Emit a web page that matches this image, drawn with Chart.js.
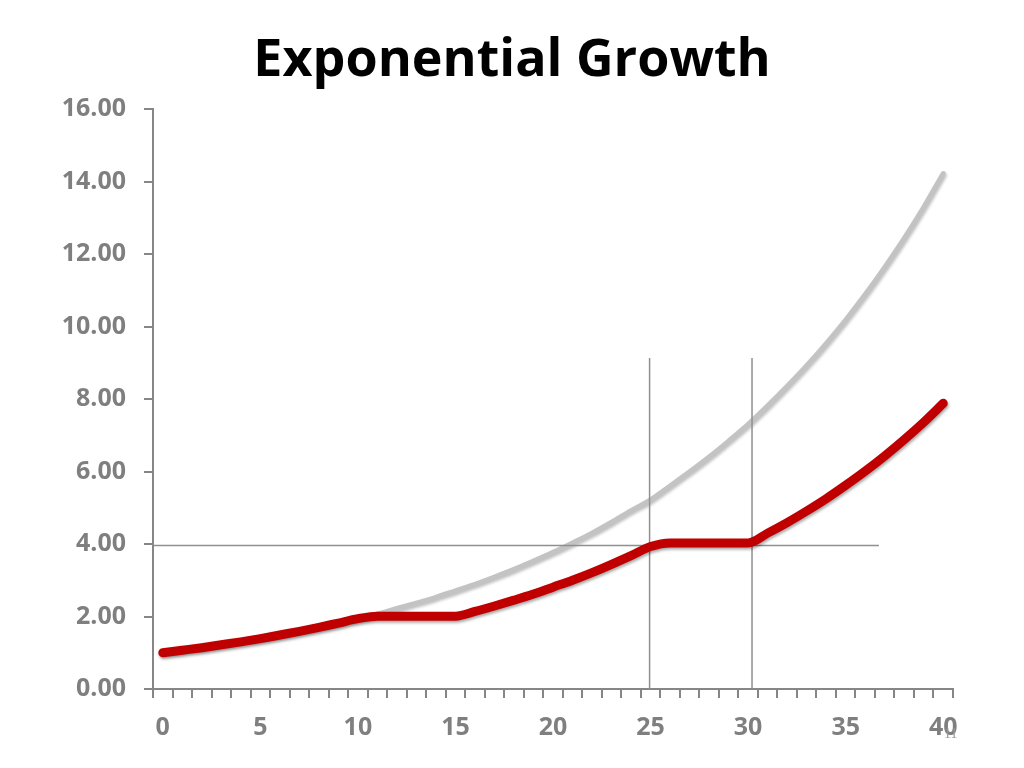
<!DOCTYPE html>
<html>
<head>
<meta charset="utf-8">
<script src="https://cdn.jsdelivr.net/npm/chart.js@4.4.1/dist/chart.umd.min.js"></script>
<style>
  html, body { margin: 0; padding: 0; background: #ffffff; }
  #wrap { position: relative; width: 1024px; height: 768px; }
  #pageNum { position: absolute; left: 944px; top: 726px; font-family: "Liberation Serif", serif; font-size: 14px; color: #9a9a9a; }
</style>
</head>
<body>
<div id="wrap">
  <canvas id="c" width="1024" height="768"></canvas>
  <div id="pageNum">11</div>
</div>
<script>
// ---- data ----
const titleText = "Exponential Growth";
const years = ["0","1","2","3","4","5","6","7","8","9","10","11","12","13","14","15","16","17","18","19","20",
               "21","22","23","24","25","26","27","28","29","30","31","32","33","34","35","36","37","38","39","40"];
const unconstrained = [1.00,1.07,1.14,1.22,1.30,1.39,1.49,1.59,1.70,1.82,1.94,2.07,2.22,2.37,2.53,2.71,2.89,3.09,3.30,3.53,3.77,
                       4.03,4.30,4.60,4.92,5.22,5.60,5.99,6.40,6.84,7.30,7.81,8.35,8.92,9.53,10.18,10.88,11.63,12.43,13.29,14.22];
const constrained   = [1.00,1.07,1.14,1.22,1.30,1.39,1.49,1.59,1.70,1.82,1.94,2.01,2.01,2.01,2.01,2.01,2.14,2.29,2.45,2.62,2.81,
                       3.00,3.21,3.44,3.68,3.93,4.03,4.03,4.03,4.03,4.03,4.30,4.59,4.91,5.25,5.62,6.01,6.43,6.88,7.36,7.88];
const limitLevel = 3.96;          // horizontal guide value
const limitLineEnd = 36.7;        // horizontal guide ends near year 36.7
const markerYears = [24.95, 30.2]; // vertical guides
const markerTop = 9.13;           // vertical guides reach this value
const yTicks = [0, 2, 4, 6, 8, 10, 12, 14, 16];

const axisGray = "#868686";
const guideGray = "#8f8f8f";

const shadowPlugin = {
  id: "lineShadow",
  beforeDatasetDraw(chart, args) {
    const ds = chart.data.datasets[args.index];
    if (ds.shadow) {
      const ctx = chart.ctx;
      ctx.save();
      ctx.shadowColor = ds.shadow;
      ctx.shadowBlur = 3;
      ctx.shadowOffsetX = 1;
      ctx.shadowOffsetY = 2;
    }
  },
  afterDatasetDraw(chart, args) {
    const ds = chart.data.datasets[args.index];
    if (ds.shadow) chart.ctx.restore();
  }
};

const datasets = [
  {
    label: "Constrained",
    data: constrained,
    borderColor: "#c00000",
    borderWidth: 9,
    borderCapStyle: "round",
    borderJoinStyle: "round",
    pointRadius: 0,
    cubicInterpolationMode: "monotone",
    order: 0,
    shadow: "rgba(0,0,0,0.35)"
  },
  {
    label: "Unconstrained",
    data: unconstrained,
    borderColor: "#c3c3c3",
    borderWidth: 5,
    borderCapStyle: "round",
    pointRadius: 0,
    cubicInterpolationMode: "monotone",
    order: 2,
    shadow: "rgba(0,0,0,0.25)"
  },
  {
    label: "limit",
    xAxisID: "xr",
    data: [{x: -0.5, y: limitLevel}, {x: limitLineEnd, y: limitLevel}],
    borderColor: guideGray,
    borderWidth: 1.5,
    pointRadius: 0,
    order: 1
  }
];
markerYears.forEach((yr, i) => {
  datasets.push({
    label: "marker" + i,
    xAxisID: "xr",
    data: [{x: yr, y: 0}, {x: yr, y: markerTop}],
    borderColor: guideGray,
    borderWidth: 1.5,
    pointRadius: 0,
    order: 1
  });
});

new Chart(document.getElementById("c"), {
  type: "line",
  data: { labels: years, datasets: datasets },
  plugins: [shadowPlugin],
  options: {
    responsive: false,
    animation: false,
    events: [],
    layout: { padding: 0 },
    plugins: {
      legend: { display: false },
      tooltip: { enabled: false },
      title: {
        display: true,
        text: titleText,
        color: "#000000",
        font: { family: "'Open Sans', sans-serif", size: 52, weight: "bold", lineHeight: 1.2 },
        padding: { top: 30, bottom: 16.6 }
      }
    },
    scales: {
      x: {
        type: "category",
        offset: true,
        grid: { offset: true, drawOnChartArea: false, drawTicks: true, tickLength: 9, color: axisGray, lineWidth: 2 },
        border: { color: axisGray, width: 2 },
        ticks: {
          autoSkip: false,
          maxRotation: 0,
          color: "#7f7f7f",
          padding: 15,
          font: { family: "'Open Sans', sans-serif", size: 25, weight: "bold" },
          callback: function (v, i) { const l = years[i]; return Number(l) % 5 === 0 ? l : ""; }
        },
        afterFit: function (s) { s.height = 79; }
      },
      xr: {
        type: "linear",
        display: false,
        min: -0.5,
        max: 40.5
      },
      y: {
        min: 0,
        max: 16,
        afterBuildTicks: function (s) { s.ticks = yTicks.map(v => ({ value: v })); },
        grid: { drawOnChartArea: false, drawTicks: true, tickLength: 9, color: axisGray, lineWidth: 2 },
        border: { color: axisGray, width: 2 },
        ticks: {
          color: "#7f7f7f",
          padding: 18,
          font: { family: "'Open Sans', sans-serif", size: 25, weight: "bold" },
          callback: function (v) { return Number(v).toFixed(2); }
        },
        afterFit: function (s) { s.width = 153; }
      },
      yr: {
        position: "right",
        display: true,
        min: 0,
        max: 16,
        grid: { display: false, drawTicks: false },
        border: { display: false },
        ticks: { display: false },
        afterFit: function (s) { s.width = 71; }
      }
    }
  }
});
</script>
</body>
</html>
